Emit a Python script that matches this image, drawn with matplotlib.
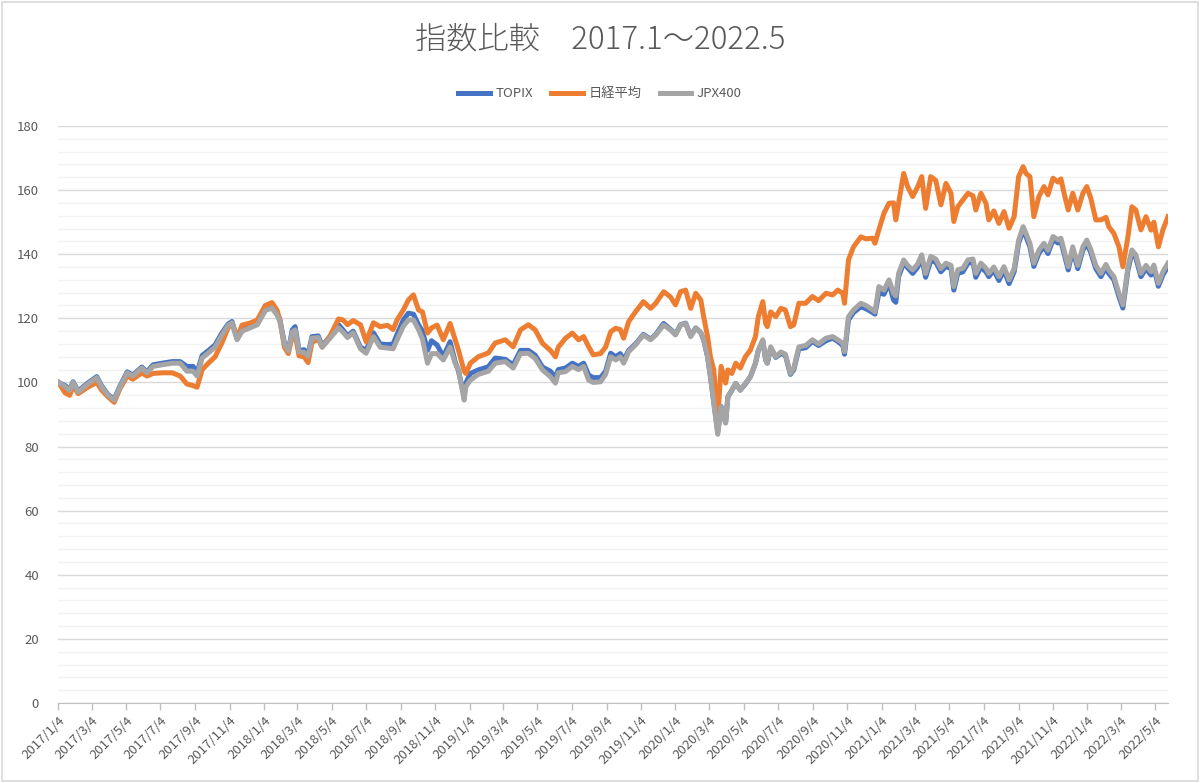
import matplotlib
matplotlib.use("Agg")
import matplotlib.pyplot as plt
import matplotlib.dates as mdates
from matplotlib.ticker import MultipleLocator
from matplotlib.patches import Rectangle
import pandas as pd

plt.rcParams['font.family'] = ['Noto Sans CJK JP', 'DejaVu Sans']

# 2017/1/4 = 100 として指数化
dates = [
    "2017-01-04", "2017-01-16", "2017-01-24", "2017-01-30", "2017-02-08", "2017-02-25", "2017-03-13", "2017-03-22", "2017-04-02", "2017-04-13",
    "2017-04-23", "2017-05-06", "2017-05-16", "2017-06-01", "2017-06-10", "2017-06-21", "2017-07-07", "2017-07-25", "2017-08-08", "2017-08-20",
    "2017-08-31", "2017-09-07", "2017-09-16", "2017-09-27", "2017-10-09", "2017-10-21", "2017-11-01", "2017-11-08", "2017-11-17", "2017-11-26",
    "2017-12-10", "2017-12-23", "2018-01-06", "2018-01-18", "2018-01-27", "2018-02-01", "2018-02-09", "2018-02-16", "2018-02-23", "2018-02-28",
    "2018-03-07", "2018-03-16", "2018-03-23", "2018-03-30", "2018-04-10", "2018-04-17", "2018-05-01", "2018-05-16", "2018-05-24", "2018-06-01",
    "2018-06-11", "2018-06-24", "2018-07-04", "2018-07-17", "2018-07-29", "2018-08-11", "2018-08-21", "2018-08-28", "2018-09-08", "2018-09-17",
    "2018-09-26", "2018-10-05", "2018-10-12", "2018-10-21", "2018-10-28", "2018-11-07", "2018-11-18", "2018-11-30", "2018-12-09", "2018-12-15",
    "2018-12-25", "2018-12-28", "2019-01-05", "2019-01-19", "2019-02-06", "2019-02-18", "2019-03-08", "2019-03-22", "2019-04-04", "2019-04-18",
    "2019-04-30", "2019-05-13", "2019-05-27", "2019-06-05", "2019-06-10", "2019-06-23", "2019-07-05", "2019-07-16", "2019-07-25", "2019-08-03",
    "2019-08-11", "2019-08-24", "2019-09-02", "2019-09-11", "2019-09-20", "2019-09-28", "2019-10-04", "2019-10-13", "2019-10-25", "2019-11-08",
    "2019-11-21", "2019-11-30", "2019-12-14", "2019-12-26", "2020-01-04", "2020-01-13", "2020-01-22", "2020-01-31", "2020-02-09", "2020-02-18",
    "2020-02-23", "2020-03-01", "2020-03-06", "2020-03-12", "2020-03-19", "2020-03-25", "2020-04-02", "2020-04-06", "2020-04-13", "2020-04-20",
    "2020-04-28", "2020-05-07", "2020-05-16", "2020-05-25", "2020-05-30", "2020-06-07", "2020-06-12", "2020-06-15", "2020-06-21", "2020-06-30",
    "2020-07-09", "2020-07-17", "2020-07-26", "2020-08-01", "2020-08-10", "2020-08-22", "2020-09-03", "2020-09-14", "2020-09-27", "2020-10-09",
    "2020-10-18", "2020-10-27", "2020-10-30", "2020-11-06", "2020-11-15", "2020-11-28", "2020-12-07", "2020-12-19", "2020-12-23", "2020-12-30",
    "2021-01-08", "2021-01-17", "2021-01-25", "2021-01-29", "2021-02-03", "2021-02-12", "2021-02-19", "2021-02-28", "2021-03-09", "2021-03-16",
    "2021-03-23", "2021-04-01", "2021-04-10", "2021-04-19", "2021-04-28", "2021-05-07", "2021-05-12", "2021-05-19", "2021-05-28", "2021-06-06",
    "2021-06-15", "2021-06-20", "2021-06-29", "2021-07-08", "2021-07-13", "2021-07-22", "2021-07-31", "2021-08-09", "2021-08-18", "2021-08-27",
    "2021-09-04", "2021-09-12", "2021-09-17", "2021-09-24", "2021-10-01", "2021-10-10", "2021-10-19", "2021-10-26", "2021-11-04", "2021-11-13",
    "2021-11-18", "2021-11-25", "2021-12-01", "2021-12-09", "2021-12-18", "2021-12-27", "2022-01-03", "2022-01-10", "2022-01-19", "2022-01-28",
    "2022-02-06", "2022-02-11", "2022-02-20", "2022-03-01", "2022-03-08", "2022-03-17", "2022-03-24", "2022-03-31", "2022-04-09", "2022-04-18",
    "2022-04-27", "2022-05-02", "2022-05-10", "2022-05-18", "2022-05-27",
]

topix = [
    100.0, 99.0, 97.8, 100.2, 97.3, 99.8, 101.8, 98.8, 96.2, 94.8,
    98.8, 103.3, 102.3, 104.8, 103.3, 105.5, 106.0, 106.5, 106.5, 105.0,
    105.0, 103.0, 108.4, 109.9, 111.7, 115.4, 118.2, 119.0, 113.6, 116.4,
    117.5, 118.5, 122.8, 123.5, 121.5, 119.5, 112.3, 110.0, 116.4, 117.4,
    110.0, 110.2, 108.8, 114.3, 114.5, 111.5, 114.3, 118.0, 116.4, 114.5,
    116.0, 111.0, 110.0, 115.5, 112.0, 111.8, 112.0, 115.0, 119.5, 121.6,
    121.3, 118.0, 116.0, 110.0, 113.0, 111.7, 108.0, 112.7, 106.5, 103.5,
    95.5, 99.8, 102.8, 103.9, 104.9, 107.6, 107.2, 105.5, 110.0, 110.0,
    108.5, 104.8, 103.5, 101.5, 104.0, 104.5, 106.0, 105.0, 106.0, 102.3,
    101.5, 101.5, 103.5, 109.1, 108.0, 109.0, 107.0, 110.0, 112.0, 115.0,
    113.5, 115.0, 118.4, 116.6, 115.0, 118.0, 118.5, 114.5, 117.0, 115.5,
    113.3, 108.0, 102.0, 94.0, 84.5, 92.5, 87.5, 95.5, 97.5, 99.7,
    97.6, 99.5, 101.8, 106.0, 110.0, 113.0, 107.0, 106.0, 110.8, 107.8,
    109.0, 108.5, 102.5, 104.0, 110.5, 110.8, 112.8, 111.5, 113.0, 113.8,
    112.8, 111.5, 108.8, 119.5, 121.8, 123.6, 123.0, 121.8, 121.3, 128.0,
    127.5, 131.0, 125.7, 125.0, 133.0, 137.2, 135.8, 134.0, 136.0, 138.8,
    132.8, 138.0, 137.5, 134.5, 136.2, 135.5, 128.8, 134.0, 134.5, 137.2,
    137.5, 132.8, 136.0, 134.5, 133.0, 135.0, 131.8, 135.0, 130.8, 134.5,
    143.4, 147.6, 145.5, 142.3, 136.2, 140.3, 142.4, 140.2, 144.5, 143.5,
    144.0, 139.3, 135.1, 141.3, 135.5, 141.3, 143.4, 140.5, 135.5, 133.0,
    135.8, 134.0, 132.0, 126.8, 123.2, 135.1, 140.3, 138.8, 133.0, 135.5,
    133.5, 135.6, 130.0, 133.5, 136.2,
]

nikkei = [
    100.0, 96.7, 96.0, 99.0, 96.5, 98.5, 100.0, 97.5, 95.5, 93.8,
    98.0, 102.0, 101.0, 103.0, 102.0, 102.8, 103.0, 103.0, 102.0, 99.5,
    99.0, 98.5, 104.0, 106.0, 108.0, 112.3, 117.0, 118.5, 114.0, 117.9,
    118.5, 119.5, 124.0, 124.9, 122.5, 119.5, 111.0, 109.0, 114.5, 115.0,
    108.3, 108.0, 106.2, 112.5, 113.5, 111.0, 114.5, 119.8, 119.5, 118.0,
    119.3, 118.0, 112.7, 118.6, 117.4, 117.8, 116.5, 119.5, 122.6, 125.7,
    127.3, 122.6, 122.0, 115.4, 117.0, 117.9, 113.3, 118.4, 113.3, 110.0,
    103.5, 102.8, 106.0, 108.0, 109.2, 112.3, 113.3, 111.1, 116.4, 118.0,
    116.4, 112.2, 110.0, 108.0, 111.0, 113.8, 115.4, 113.3, 114.3, 111.1,
    108.6, 109.0, 111.0, 115.8, 116.9, 116.5, 113.8, 119.0, 122.0, 125.2,
    123.1, 124.7, 128.3, 126.7, 124.2, 128.3, 128.8, 123.1, 127.8, 125.7,
    120.5, 114.3, 108.0, 103.9, 88.5, 105.0, 99.8, 103.9, 102.8, 106.0,
    104.5, 108.0, 110.1, 114.3, 120.5, 125.2, 118.4, 117.4, 122.0, 120.5,
    123.1, 122.6, 117.4, 118.0, 124.7, 124.7, 126.8, 125.5, 127.8, 127.3,
    128.8, 127.8, 124.7, 138.2, 142.3, 145.4, 144.8, 145.0, 143.4, 147.6,
    152.8, 155.9, 156.0, 150.7, 155.9, 165.2, 161.1, 158.0, 161.1, 164.2,
    154.3, 164.2, 163.0, 155.4, 162.1, 159.0, 150.2, 154.8, 156.9, 159.0,
    158.2, 153.8, 159.0, 155.9, 150.7, 153.5, 149.6, 153.3, 148.1, 151.7,
    164.2, 167.3, 165.2, 164.2, 151.7, 158.0, 161.1, 158.5, 163.7, 162.5,
    163.5, 158.0, 153.8, 159.0, 153.8, 159.0, 161.1, 157.5, 150.7, 150.7,
    151.5, 148.6, 146.5, 142.3, 136.1, 145.5, 154.8, 153.8, 147.6, 151.7,
    147.5, 150.0, 142.3, 147.6, 151.7,
]

jpx400 = [
    100.0, 98.7, 97.5, 100.0, 97.0, 99.5, 101.5, 98.5, 96.0, 94.5,
    98.5, 103.0, 102.0, 104.5, 103.0, 105.0, 105.5, 106.0, 106.0, 103.5,
    103.5, 102.0, 107.6, 109.2, 111.0, 114.8, 117.8, 118.6, 113.3, 116.0,
    117.0, 118.0, 122.4, 123.2, 121.0, 119.0, 112.0, 109.8, 115.7, 116.4,
    109.5, 109.4, 108.2, 113.8, 114.0, 111.0, 113.8, 117.0, 115.7, 114.0,
    115.5, 110.5, 109.1, 114.3, 111.0, 110.7, 110.5, 113.3, 117.5, 119.5,
    119.5, 116.5, 113.5, 106.0, 109.0, 109.0, 107.0, 111.0, 106.0, 103.9,
    94.5, 98.7, 100.7, 102.5, 103.5, 106.0, 106.5, 104.5, 109.0, 109.1,
    107.5, 103.9, 101.8, 99.8, 103.0, 103.4, 105.0, 104.0, 105.0, 100.7,
    100.0, 100.2, 102.5, 108.0, 107.0, 108.0, 106.0, 109.6, 111.7, 114.8,
    113.3, 114.8, 117.9, 116.4, 114.8, 117.9, 118.4, 114.3, 116.9, 115.5,
    113.3, 108.0, 101.8, 93.6, 83.8, 92.4, 87.3, 95.5, 97.6, 99.7,
    97.6, 99.7, 101.8, 106.0, 110.1, 113.3, 107.0, 106.0, 111.1, 108.0,
    109.5, 108.8, 102.8, 104.5, 111.1, 111.5, 113.3, 112.0, 113.8, 114.3,
    113.3, 112.2, 109.6, 120.5, 122.6, 124.7, 124.0, 122.6, 122.0, 129.9,
    128.8, 132.0, 127.8, 127.0, 134.0, 138.2, 136.5, 135.1, 137.0, 139.8,
    134.0, 139.3, 138.5, 135.5, 137.2, 136.5, 129.9, 135.1, 135.6, 138.2,
    138.5, 134.0, 137.2, 135.6, 134.0, 136.0, 133.0, 136.1, 132.0, 135.5,
    144.4, 148.6, 146.5, 143.4, 137.2, 141.3, 143.4, 141.2, 145.5, 144.5,
    145.0, 140.3, 136.1, 142.3, 136.5, 142.3, 144.4, 141.5, 136.5, 134.0,
    136.8, 135.0, 133.0, 127.8, 124.2, 136.1, 141.3, 139.8, 134.0, 136.5,
    134.5, 136.6, 130.9, 134.5, 137.2,
]

x = pd.to_datetime(dates)

fig = plt.figure(figsize=(12, 7.83), dpi=100)
ax = fig.add_axes([0.0487, 0.1022, 0.9246, 0.7369])

ax.plot(x, topix, color='#4472C4', lw=3.6, label='TOPIX', solid_joinstyle='round')
ax.plot(x, nikkei, color='#ED7D31', lw=3.6, label='日経平均', solid_joinstyle='round')
ax.plot(x, jpx400, color='#A5A5A5', lw=3.6, label='JPX400', solid_joinstyle='round')

ax.set_ylim(0, 180)
ax.set_xlim(x[0], x[-1])
ax.yaxis.set_major_locator(MultipleLocator(20))
ax.yaxis.set_minor_locator(MultipleLocator(4))
ax.grid(axis='y', which='major', color='#d9d9d9', lw=1.0)
ax.grid(axis='y', which='minor', color='#f2f2f2', lw=1.0)
ax.set_axisbelow(True)

# x軸：2か月ごとの4日
ticks = pd.date_range("2017-01-04", "2022-05-04", freq=pd.DateOffset(months=2))
ax.set_xticks(ticks)
ax.set_xticklabels([f"{t.year}/{t.month}/{t.day}" for t in ticks],
                   rotation=45, ha='right', rotation_mode='anchor')
ax.tick_params(axis='x', which='major', length=5, color='#bfbfbf', width=1,
               labelsize=9.5, labelcolor='#595959', pad=3)
ax.tick_params(axis='y', which='both', length=0, labelsize=9.5,
               labelcolor='#595959', pad=14)

for s in ['top', 'right', 'left']:
    ax.spines[s].set_visible(False)
ax.spines['bottom'].set_color('#bfbfbf')

fig.text(0.5, 0.949, '指数比較　2017.1～2022.5', ha='center', va='center',
         fontsize=22.5, color='#595959', fontweight='light')

fig.legend(loc='center', bbox_to_anchor=(0.5, 0.88), ncol=3, frameon=False,
           fontsize=9.5, handlelength=2.4, columnspacing=1.4, handletextpad=0.4,
           labelcolor='#595959')

fig.patches.append(Rectangle((0.002, 0.003), 0.996, 0.994, transform=fig.transFigure,
                             fill=False, edgecolor='#d9d9d9', lw=1.2))

fig.savefig('out.png', dpi=100, facecolor='white')
